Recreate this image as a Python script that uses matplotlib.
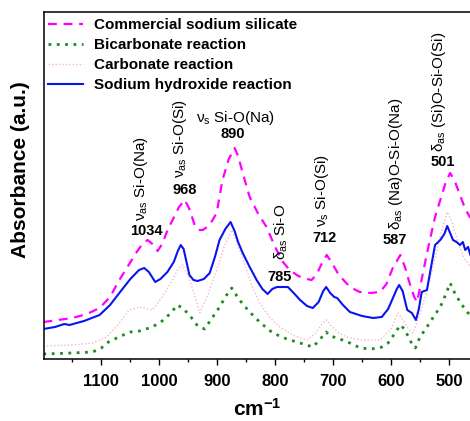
import matplotlib
matplotlib.use("Agg")
import matplotlib.pyplot as plt
from matplotlib.ticker import MultipleLocator

plt.rcParams['font.family'] = ['Liberation Sans', 'DejaVu Sans']
plt.rcParams['mathtext.fontset'] = 'custom'
plt.rcParams['mathtext.rm'] = 'Liberation Sans'
plt.rcParams['mathtext.it'] = 'Liberation Sans'
plt.rcParams['mathtext.bf'] = 'Liberation Sans:bold'

# ---- data (wavenumber cm-1, absorbance a.u.) ----
wn_commercial = [1200, 1175, 1150, 1125, 1103, 1085, 1069, 1055, 1039, 1028, 1020, 1012,
                 1003, 995, 985, 977, 966, 956, 948, 939, 932, 925, 915, 908, 901, 891,
                 880, 870, 864, 856, 844, 830, 815, 800, 788, 775, 760, 745, 737, 728,
                 720, 711, 703, 690, 671, 654, 635, 619, 608, 597, 584, 576, 567, 560,
                 555, 547, 540, 533, 524, 515, 506, 498, 490, 481, 472, 463]
abs_commercial = [37, 39, 41, 45, 51, 62, 79, 92, 107, 116, 119, 115,
                  108, 115, 130, 139, 152, 159, 150, 134, 129, 129, 133, 139, 146, 179,
                  200, 211, 203, 186, 162, 146, 132, 112, 98, 89, 83, 80, 79, 85,
                  95, 104, 97, 84, 72, 67, 66, 67, 75, 91, 104, 92, 74, 62,
                  57, 80, 100, 119, 142, 159, 176, 186, 178, 164, 150, 141]

wn_bicarb = [1200, 1150, 1115, 1100, 1091, 1070, 1050, 1034, 1012, 995, 980, 969, 960,
             948, 935, 922, 910, 896, 885, 875, 865, 856, 844, 825, 804, 780, 757, 735,
             725, 712, 705, 693, 671, 653, 636, 619, 605, 593, 584, 577, 570, 563, 558,
             550, 538, 527, 515, 506, 498, 490, 482, 475, 467, 463]
abs_bicarb = [5, 6, 7, 11, 16, 22, 27, 28, 32, 38, 46, 54, 51,
              44, 34, 30, 40, 52, 63, 71, 62, 55, 47, 36, 26, 20, 16, 12,
              18, 27, 23, 21, 16, 11, 10, 11, 16, 26, 34, 30, 22, 14, 11,
              22, 32, 42, 52, 64, 76, 66, 58, 52, 46, 44]

wn_carb = [1200, 1150, 1115, 1091, 1070, 1052, 1034, 1020, 1012, 995, 977, 968, 960,
           950, 942, 930, 915, 901, 888, 875, 865, 849, 838, 827, 810, 792, 770, 745,
           730, 718, 711, 703, 690, 677, 650, 619, 600, 588, 578, 570, 562, 550, 538,
           525, 512, 503, 495, 485, 475, 463]
abs_carb = [13, 14, 16, 22, 35, 49, 52, 50, 49, 62, 79, 90, 94,
            83, 69, 46, 66, 89, 112, 129, 115, 89, 70, 56, 42, 32, 24, 19,
            26, 36, 39, 33, 26, 22, 19, 19, 30, 46, 38, 30, 26, 45, 69,
            98, 130, 147, 137, 118, 102, 92]

wn_naoh = [1200, 1180, 1164, 1155, 1130, 1103, 1085, 1069, 1050, 1035, 1026, 1018, 1007,
           998, 986, 975, 968, 963, 958, 953, 948, 941, 934, 923, 913, 904, 896, 886,
           877, 870, 864, 856, 844, 832, 822, 813, 805, 797, 778, 768, 757, 745, 735,
           725, 717, 712, 705, 698, 693, 683, 671, 650, 631, 616, 605, 596, 590, 586,
           580, 575, 572, 564, 557, 552, 547, 538, 530, 524, 515, 508, 503, 498, 493,
           487, 481, 476, 472, 467, 463]
abs_naoh = [30, 32, 35, 34, 38, 44, 54, 66, 80, 89, 91, 87, 77,
            80, 87, 97, 108, 114, 110, 97, 84, 79, 78, 80, 86, 102, 119, 130,
            137, 128, 117, 106, 92, 79, 70, 65, 70, 72, 72, 66, 59, 53, 51,
            57, 68, 72, 66, 62, 61, 54, 47, 43, 41, 42, 50, 62, 70, 74,
            68, 56, 49, 46, 39, 50, 67, 69, 95, 114, 119, 125, 133, 126, 119,
            117, 114, 117, 109, 112, 104]

series_labels = ["Commercial sodium silicate", "Bicarbonate reaction",
                 "Carbonate reaction", "Sodium hydroxide reaction"]

peak_numbers = ["1034", "968", "890", "785", "712", "587", "501"]
peak_assign = [r"$\nu_{\mathrm{as}}$ Si-O(Na)", r"$\nu_{\mathrm{as}}$ Si-O(Si)",
               r"$\nu_{\mathrm{s}}$ Si-O(Na)", r"$\delta_{\mathrm{as}}$ Si-O",
               r"$\nu_{\mathrm{s}}$ Si-O(Si)", r"$\delta_{\mathrm{as}}$ (Na)O-Si-O(Na)",
               r"$\delta_{\mathrm{as}}$ (Si)O-Si-O(Si)"]

W, H = 470, 421
fig = plt.figure(figsize=(W / 100, H / 100), dpi=100)
left, right, top, bottom = 44, 470, 12, 359
ax = fig.add_axes([left / W, 1 - bottom / H, (right - left) / W, (bottom - top) / H])

ax.plot(wn_commercial, abs_commercial, color='#ff00ff', lw=1.6, ls=(0, (4, 3)),
        label=series_labels[0])
ax.plot(wn_bicarb, abs_bicarb, color='#1f8a1f', lw=2.0, ls=(0, (1, 2)),
        label=series_labels[1])
ax.plot(wn_carb, abs_carb, color='#f2b8c8', lw=1.0, ls=(0, (1, 1.5)),
        label=series_labels[2])
ax.plot(wn_naoh, abs_naoh, color='#0a14f0', lw=1.5, ls='-',
        label=series_labels[3])

ax.set_xlim(1199, 463.7)
ax.set_ylim(0, 347)
ax.set_yticks([])
ax.xaxis.set_major_locator(MultipleLocator(100))
ax.xaxis.set_minor_locator(MultipleLocator(50))
ax.tick_params(axis='x', which='major', direction='out', length=4, width=1.0,
               labelsize=12, pad=7)
ax.tick_params(axis='x', which='minor', direction='out', length=2.5, width=1.0)
for lab in ax.get_xticklabels():
    lab.set_fontweight('bold')
ax.spines['right'].set_visible(False)
for s in ['left', 'top', 'bottom']:
    ax.spines[s].set_linewidth(1.1)

fig.text(257 / W, 1 - 409 / H, r"cm$^{\mathbf{-1}}$", fontsize=15, fontweight='bold',
         ha='center', va='center')
fig.text(21 / W, 1 - 170 / H, "Absorbance (a.u.)", fontsize=15, fontweight='bold',
         rotation=90, ha='center', va='center')

leg = ax.legend(loc='upper left', bbox_to_anchor=(4 / (right - left), 1 - 6 / (bottom - top)),
                frameon=False, prop={'weight': 'bold', 'size': 11},
                handlelength=2.3, handletextpad=0.7, labelspacing=0.4, borderaxespad=0,
                borderpad=0)

# annotations: number (x, y) and assignment (x, bottom y, rotation)
num_pos = [(1022, 128), (956, 169), (873, 225), (792, 82), (714, 121), (593, 119), (510, 197)]
lab_pos = [(1031, 138, 90), (965, 181, 90), (868, 241, 0), (790, 99, 90),
           (719, 132, 90), (591, 129, 90), (517, 207, 90)]
for n, a, (nx, ny), (lx, ly, rot) in zip(peak_numbers, peak_assign, num_pos, lab_pos):
    ax.text(nx, ny, n, fontsize=10.5, fontweight='bold', ha='center', va='center')
    if rot == 0:
        ax.text(lx, ly, a, fontsize=11, ha='center', va='center')
    else:
        ax.text(lx, ly, a, fontsize=11, ha='center', va='bottom', rotation=90)

fig.savefig("out.png", dpi=100)
